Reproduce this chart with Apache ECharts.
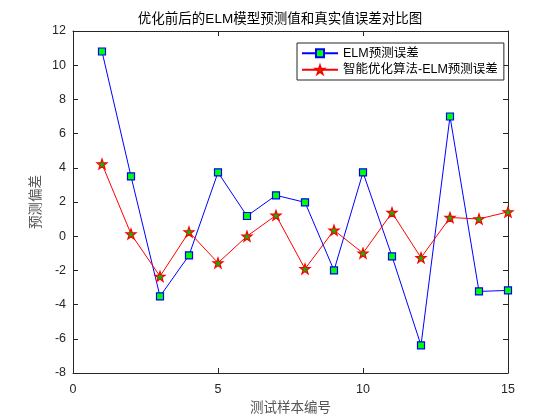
<!DOCTYPE html>
<html><head><meta charset="utf-8">
<script src="https://cdn.jsdelivr.net/npm/echarts@6/dist/echarts.min.js"></script>
<style>html,body{margin:0;padding:0;background:#fff}#c{width:560px;height:420px}</style>
</head><body><div id="c"></div>
<script>
const samples = [1,2,3,4,5,6,7,8,9,10,11,12,13,14,15];
const elmError = [10.8,3.5,-3.52,-1.12,3.73,1.18,2.39,1.98,-2.0,3.73,-1.18,-6.38,7.0,-3.23,-3.17];
const optError = [4.22,0.13,-2.35,0.25,-1.56,0.0,1.22,-1.91,0.35,-0.99,1.38,-1.26,1.09,1.01,1.42];
const xTicks = [0,5,10,15];
const yTicks = [-8,-6,-4,-2,0,2,4,6,8,10,12];

const starPath = 'path://M0,-10 L2.35,-3.24 L9.51,-3.09 L3.8,1.24 L5.88,8.09 L0,4 L-5.88,8.09 L-3.8,1.24 L-9.51,-3.09 L-2.35,-3.24 Z';
const font = '"Liberation Sans", Arial, "Noto Sans CJK SC", sans-serif';
const chart = echarts.init(document.getElementById('c'));
const axisCommon = {
  axisLine:{show:true, onZero:false, lineStyle:{color:'#262626', width:1}},
  axisTick:{show:true, inside:true, length:5, lineStyle:{color:'#262626'}},
  splitLine:{show:false}
};
chart.setOption({
  animation:false,
  backgroundColor:'#fff',
  textStyle:{fontFamily:font},
  title:{text:'优化前后的ELM模型预测值和真实值误差对比图', left:'center', top:8,
    textStyle:{fontSize:13.5, fontWeight:'normal', color:'#000', fontFamily:font}},
  grid:{left:73, right:52, top:31, bottom:47, containLabel:false},
  legend:{
    left:297, top:43, orient:'vertical', itemWidth:36, itemHeight:10, itemGap:4,
    padding:[4,6,4,4], borderColor:'#262626', borderWidth:1, backgroundColor:'#fff',
    textStyle:{fontSize:12.5, color:'#000', fontFamily:font},
    data:['ELM预测误差','智能优化算法-ELM预测误差']
  },
  xAxis:[
    Object.assign({type:'value', min:xTicks[0], max:xTicks[xTicks.length-1], interval:5,
      name:'测试样本编号', nameLocation:'middle', nameGap:27,
      nameTextStyle:{fontSize:13.5, color:'#555', fontFamily:'"Noto Sans CJK SC", sans-serif'},
      axisLabel:{fontSize:12.5, color:'#262626', margin:10}}, axisCommon),
    Object.assign({type:'value', position:'top', min:0, max:15, interval:5, axisLabel:{show:false}}, axisCommon)
  ],
  yAxis:[
    Object.assign({type:'value', min:yTicks[0], max:yTicks[yTicks.length-1], interval:2,
      name:'预测偏差', nameLocation:'middle', nameGap:27,
      nameTextStyle:{fontSize:13.5, color:'#555', fontFamily:'"Noto Sans CJK SC", sans-serif'},
      axisLabel:{fontSize:12.5, color:'#262626', margin:7}}, axisCommon),
    Object.assign({type:'value', position:'right', min:-8, max:12, interval:2, axisLabel:{show:false}}, axisCommon)
  ],
  series:[
    {name:'ELM预测误差', type:'line', data:samples.map((s,i)=>[s,elmError[i]]),
      symbol:'rect', symbolSize:7, showAllSymbol:true,
      lineStyle:{color:'#0000FF', width:1}, itemStyle:{color:'#00FF00', borderColor:'#0000FF', borderWidth:1.2}},
    {name:'智能优化算法-ELM预测误差', type:'line', data:samples.map((s,i)=>[s,optError[i]]),
      symbol:starPath, symbolSize:10, showAllSymbol:true,
      lineStyle:{color:'#FF0000', width:1}, itemStyle:{color:'#00C000', borderColor:'#FF0000', borderWidth:1.2}}
  ]
});
</script></body></html>
